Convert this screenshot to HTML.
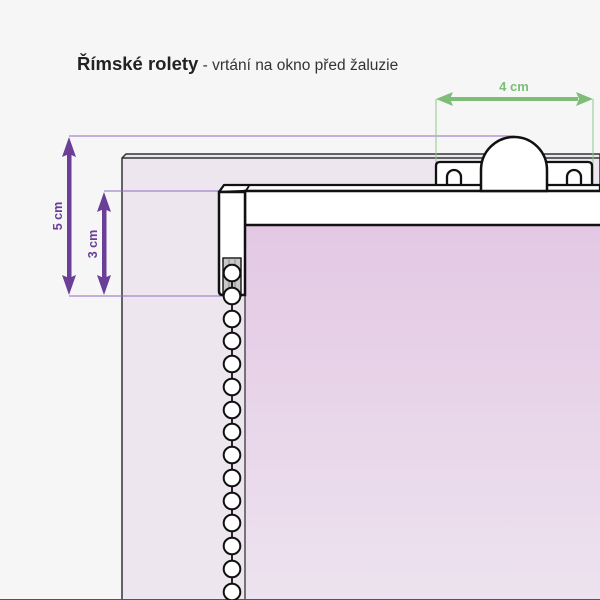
<!DOCTYPE html>
<html><head><meta charset="utf-8"><style>
html,body{margin:0;padding:0;background:#f6f6f6;}
svg{display:block}
</style></head><body>
<svg width="600" height="600" viewBox="0 0 600 600" xmlns="http://www.w3.org/2000/svg">
<defs>
<linearGradient id="bl" x1="0" y1="0" x2="0" y2="1">
<stop offset="0" stop-color="#e3c8e4"/><stop offset="1" stop-color="#ede3ef"/>
</linearGradient>
</defs>
<rect width="600" height="600" fill="#f6f6f6"/>
<text x="77" y="70" font-family="Liberation Sans, sans-serif" font-size="18.5" font-weight="bold" fill="#222">Římské rolety<tspan font-weight="normal" font-size="15.5" fill="#333"> - vrtání na okno před žaluzie</tspan></text>

<path d="M122,600 V158 L126,154 H600 V600 Z" fill="#ede6ef" stroke="#333" stroke-width="1.5"/>
<line x1="122" y1="158" x2="600" y2="158" stroke="#333" stroke-width="1.5"/>

<line x1="69" y1="136" x2="515" y2="136" stroke="#8f6fc0" stroke-width="1"/>
<line x1="69" y1="296" x2="222" y2="296" stroke="#8f6fc0" stroke-width="1"/>
<line x1="104" y1="191" x2="222" y2="191" stroke="#8f6fc0" stroke-width="1"/>
<g fill="#6a3f98">
<rect x="67" y="150" width="4.5" height="132"/>
<polygon points="69,137 62,157 69,154 76,157"/>
<polygon points="69,295 62,275 69,278 76,275"/>
<rect x="102" y="205" width="4.5" height="77"/>
<polygon points="104,192 97,212 104,209 111,212"/>
<polygon points="104,295 97,275 104,278 111,275"/>
</g>
<text transform="translate(62,216) rotate(-90)" text-anchor="middle" font-family="Liberation Sans, sans-serif" font-size="12.5" font-weight="bold" fill="#6a3f98">5 cm</text>
<text transform="translate(97,244) rotate(-90)" text-anchor="middle" font-family="Liberation Sans, sans-serif" font-size="12.5" font-weight="bold" fill="#6a3f98">3 cm</text>

<line x1="436" y1="99" x2="436" y2="190" stroke="#8fc88a" stroke-width="1"/>
<line x1="593" y1="99" x2="593" y2="190" stroke="#8fc88a" stroke-width="1"/>
<rect x="450" y="97" width="128" height="4" fill="#7dbd78"/>
<polygon points="436,99 453,92 450,99 453,106" fill="#7dbd78"/>
<polygon points="593,99 576,92 579,99 576,106" fill="#7dbd78"/>
<text x="514" y="91" text-anchor="middle" font-family="Liberation Sans, sans-serif" font-size="13" font-weight="bold" fill="#7dbd78">4 cm</text>

<rect x="245" y="225" width="360" height="380" fill="url(#bl)" stroke="#444" stroke-width="1.4"/>
<line x1="0" y1="599.5" x2="600" y2="599.5" stroke="#555" stroke-width="1"/>

<path d="M436,191 V166 Q436,162 440,162 H588 Q592,162 592,166 V191" fill="#fff" stroke="#111" stroke-width="2.3"/>
<path d="M447,191 V177 A7,7 0 0 1 461,177 V191" fill="#fff" stroke="#111" stroke-width="2.3"/>
<path d="M567,191 V177 A7,7 0 0 1 581,177 V191" fill="#fff" stroke="#111" stroke-width="2.3"/>

<path d="M219,192 L224,185 H600 V191 H245 Z" fill="#fff" stroke="#111" stroke-width="2.3" stroke-linejoin="round"/>
<line x1="245" y1="192" x2="249" y2="186" stroke="#111" stroke-width="1.8"/>
<rect x="245" y="191" width="360" height="34" fill="#fff" stroke="#111" stroke-width="2.5"/>
<path d="M481,191 V170 A33,33 0 0 1 547,170 V191 Z" fill="#fff" stroke="#111" stroke-width="2.5"/>
<path d="M219,192 H245 V295 H223 Q219,295 219,291 Z" fill="#fff" stroke="#111" stroke-width="2.5"/>

<rect x="223" y="258" width="18" height="38" fill="#c8c8c8" stroke="#111" stroke-width="1.4"/>
<line x1="229" y1="258" x2="229" y2="296" stroke="#777" stroke-width="0.8"/>
<line x1="235" y1="258" x2="235" y2="296" stroke="#777" stroke-width="0.8"/>
<line x1="232" y1="270" x2="232" y2="600" stroke="#111" stroke-width="1.8"/>
<g fill="#fff" stroke="#111" stroke-width="2">
<circle cx="232" cy="273" r="8.3"/><circle cx="232" cy="296" r="8.3"/><circle cx="232" cy="319" r="8.3"/>
<circle cx="232" cy="341" r="8.3"/><circle cx="232" cy="364" r="8.3"/><circle cx="232" cy="387" r="8.3"/>
<circle cx="232" cy="410" r="8.3"/><circle cx="232" cy="432" r="8.3"/><circle cx="232" cy="455" r="8.3"/>
<circle cx="232" cy="478" r="8.3"/><circle cx="232" cy="501" r="8.3"/><circle cx="232" cy="523" r="8.3"/>
<circle cx="232" cy="546" r="8.3"/><circle cx="232" cy="569" r="8.3"/><circle cx="232" cy="592" r="8.3"/>
</g>
</svg>
</body></html>
